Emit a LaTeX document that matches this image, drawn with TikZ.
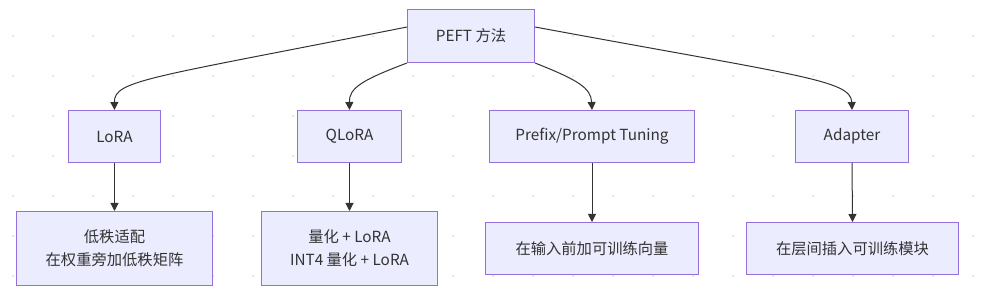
\documentclass[tikz,border=0pt]{standalone}
\usepackage{fontspec}
\setmainfont{Noto Sans CJK SC}
\usetikzlibrary{arrows.meta}
\definecolor{nodefill}{HTML}{ECECFF}
\definecolor{nodeborder}{HTML}{9370DB}
\definecolor{edgecol}{HTML}{333333}
\definecolor{dotcol}{HTML}{DADADA}
\begin{document}
\begin{tikzpicture}[x=1pt,y=-1pt,
  box/.style={draw=nodeborder,fill=nodefill,line width=1pt,inner sep=0pt,
    text=edgecol,font=\fontsize{15.3}{23}\selectfont,align=center,anchor=north west},
  edge/.style={draw=edgecol,line width=1pt,-{Triangle[length=8pt,width=8pt]}}]
\useasboundingbox (0,0) rectangle (981,288);
\fill[white] (0,0) rectangle (981,288);
\foreach \i in {0,...,24}{
  \foreach \j in {0,...,6}{
    \fill[dotcol] (13+40*\i,36+40*\j) circle (1pt);
  }
}
% top node
\node[box,minimum width=127pt,minimum height=53pt] (peft) at (407,9) {PEFT 方法};
% second row
\node[box,minimum width=92pt,minimum height=52pt] (lora) at (68,110) {LoRA};
\node[box,minimum width=104pt,minimum height=52pt] (qlora) at (297,110) {QLoRA};
\node[box,minimum width=205pt,minimum height=52pt] (prefix) at (489,110) {Prefix/Prompt Tuning};
\node[box,minimum width=113pt,minimum height=52pt] (adapter) at (795,110) {Adapter};
% third row
\node[box,minimum width=196pt,minimum height=74pt] (lorad) at (16,211) {低秩适配\\在权重旁加低秩矩阵};
\node[box,minimum width=176pt,minimum height=74pt] (qlorad) at (261,211) {量化 + LoRA\\INT4 量化 + LoRA};
\node[box,minimum width=213pt,minimum height=52pt] (prefixd) at (485,222) {在输入前加可训练向量};
\node[box,minimum width=212pt,minimum height=52pt] (adapterd) at (746,222) {在层间插入可训练模块};
% curved edges
\draw[edge] ([yshift=9pt]peft.west) .. controls (150,78) and (114,80) .. (lora.north);
\draw[edge] (peft.south west) .. controls (362,80) and (349,88) .. (qlora.north);
\draw[edge] (peft.south east) .. controls (578,80) and (591,88) .. (prefix.north);
\draw[edge] ([yshift=9pt]peft.east) .. controls (800,76) and (851,80) .. (adapter.north);
% vertical edges
\draw[edge] (lora.south) -- (lorad.north);
\draw[edge] (qlora.south) -- (qlorad.north);
\draw[edge] (prefix.south) -- (prefixd.north);
\draw[edge] (adapter.south) -- (adapterd.north);
\end{tikzpicture}
\end{document}
